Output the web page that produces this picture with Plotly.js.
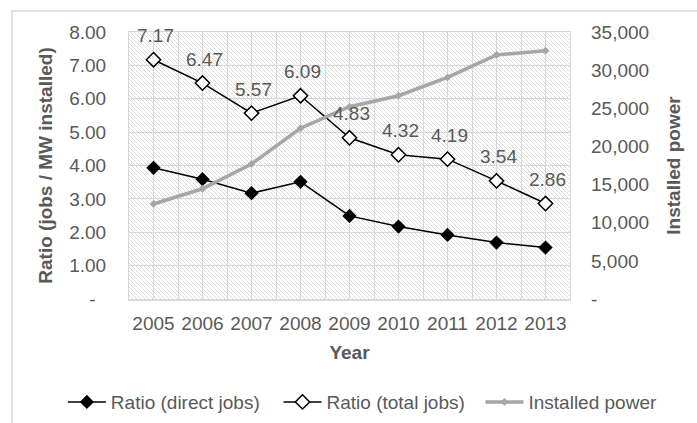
<!DOCTYPE html>
<html>
<head>
<meta charset="utf-8">
<script src="https://cdn.plot.ly/plotly-3.0.1.min.js"></script>
<style>
  html, body { margin: 0; padding: 0; background: #ffffff; }
  #chart { width: 697px; height: 423px; }
</style>
</head>
<body>
<div id="chart"></div>
<script>
// Employment ratio and installed capacity, 2005-2013
const years = [2005, 2006, 2007, 2008, 2009, 2010, 2011, 2012, 2013];
const ratioDirect = [3.93, 3.59, 3.17, 3.51, 2.49, 2.17, 1.92, 1.69, 1.54];
const ratioTotal = [7.17, 6.47, 5.57, 6.09, 4.83, 4.32, 4.19, 3.54, 2.86];
const installedPower = [12450, 14450, 17700, 22380, 25200, 26650, 29050, 32000, 32550];

const leftTickVals = [0, 1, 2, 3, 4, 5, 6, 7, 8];
const leftTickText = ['-\u00a0\u00a0', '1.00', '2.00', '3.00', '4.00', '5.00', '6.00', '7.00', '8.00'];
const rightTickVals = [0, 5000, 10000, 15000, 20000, 25000, 30000, 35000];
const rightTickText = ['-', '5,000', '10,000', '15,000', '20,000', '25,000', '30,000', '35,000'];

const FONT = 'Liberation Sans, Arial, sans-serif';
const FS = 19;
const TEXT = '#595959';
const GRID = '#d9d9d9';

// diagonal hatch used as the plot-area fill
function hatchImage(w, h, step, color) {
  let lines = '';
  for (let x = -h; x < w + step; x += step) {
    lines += `<line x1="${x}" y1="0" x2="${x + h}" y2="${h}"/>`;
  }
  const svg = `<svg xmlns="http://www.w3.org/2000/svg" width="${w}" height="${h}" viewBox="0 0 ${w} ${h}">` +
    `<rect width="${w}" height="${h}" fill="#ffffff"/>` +
    `<g stroke="${color}" stroke-width="1">${lines}</g></svg>`;
  return 'data:image/svg+xml;base64,' + btoa(svg);
}

const traces = [
  {
    x: years, y: ratioDirect, name: 'Ratio (direct jobs)', legend: 'legend',
    type: 'scatter', mode: 'lines+markers',
    line: { color: '#000000', width: 1.5 },
    marker: { symbol: 'diamond', size: 11, color: '#000000' }
  },
  {
    x: years, y: ratioTotal, name: 'Ratio (total jobs)', legend: 'legend2',
    type: 'scatter', mode: 'lines+markers',
    line: { color: '#000000', width: 1.5 },
    marker: { symbol: 'diamond', size: 11, color: '#ffffff', line: { color: '#000000', width: 1.5 } }
  },
  {
    x: years, y: installedPower, name: 'Installed power', yaxis: 'y2', legend: 'legend3',
    type: 'scatter', mode: 'lines+markers',
    line: { color: '#a6a6a6', width: 3.5 },
    marker: { symbol: 'diamond', size: 6, color: '#a6a6a6' }
  }
];

const labels = years.map((yr, i) => ({
  x: yr, y: ratioTotal[i], xref: 'x', yref: 'y',
  text: ratioTotal[i].toFixed(2), showarrow: false,
  yshift: 24, xshift: 2,
  font: { family: FONT, size: FS, color: TEXT }
}));

function legendAt(x) {
  return {
    orientation: 'h', x: x, xanchor: 'left', y: -0.386, yanchor: 'middle',
    itemwidth: 38,
    font: { family: FONT, size: FS, color: TEXT },
    bgcolor: 'rgba(0,0,0,0)', borderwidth: 0
  };
}

const layout = {
  width: 697, height: 423,
  margin: { l: 129, r: 127, t: 32, b: 124, autoexpand: false },
  paper_bgcolor: '#ffffff',
  plot_bgcolor: 'rgba(0,0,0,0)',
  font: { family: FONT, size: FS, color: TEXT },
  showlegend: true,
  legend: legendAt(-0.150),
  legend2: legendAt(0.339),
  legend3: legendAt(0.797),
  xaxis: {
    range: [2004.5, 2013.5], tickmode: 'array', tickvals: years,
    ticktext: years.map(String),
    showgrid: true, gridcolor: GRID, gridwidth: 1,
    minor: { tickmode: 'linear', tick0: 2004.5, dtick: 1, showgrid: true, gridcolor: GRID, gridwidth: 1 },
    showline: true, linecolor: GRID, linewidth: 1.5, mirror: true,
    zeroline: false, ticks: '', ticklabelstandoff: 7,
    tickfont: { family: FONT, size: FS, color: TEXT },
    title: { text: '<b>Year</b>', font: { family: FONT, size: FS, color: TEXT }, standoff: 12 }
  },
  yaxis: {
    range: [0, 8], tickmode: 'array', tickvals: leftTickVals, ticktext: leftTickText,
    showgrid: true, gridcolor: GRID, gridwidth: 1,
    showline: true, linecolor: GRID, linewidth: 1, mirror: true,
    zeroline: false, ticks: '', ticklabelstandoff: 18,
    tickfont: { family: FONT, size: FS, color: TEXT },
    title: { text: '<b>Ratio (jobs / MW installed)</b>', font: { family: FONT, size: FS, color: TEXT }, standoff: 11 }
  },
  yaxis2: {
    range: [0, 35000], overlaying: 'y', side: 'right',
    tickmode: 'array', tickvals: rightTickVals, ticktext: rightTickText,
    showgrid: false, zeroline: false, showline: false, ticks: '', ticklabelstandoff: 20,
    tickfont: { family: FONT, size: FS, color: TEXT },
    title: { text: '<b>Installed power</b>', font: { family: FONT, size: FS, color: TEXT }, standoff: 18 }
  },
  annotations: labels,
  images: [{
    source: hatchImage(441, 267, 4, '#dddddd'),
    xref: 'paper', yref: 'paper', x: 0, y: 1, sizex: 1, sizey: 1,
    xanchor: 'left', yanchor: 'top', sizing: 'stretch', layer: 'below'
  }],
  shapes: [{
    type: 'rect', xref: 'paper', yref: 'paper',
    x0: -0.2653, x1: 1.32, y0: -0.55, y1: 1.0787,
    line: { color: GRID, width: 1.5 }, fillcolor: 'rgba(0,0,0,0)', layer: 'below'
  }]
};

Plotly.newPlot('chart', traces, layout, { displayModeBar: false, staticPlot: true });
</script>
</body>
</html>
